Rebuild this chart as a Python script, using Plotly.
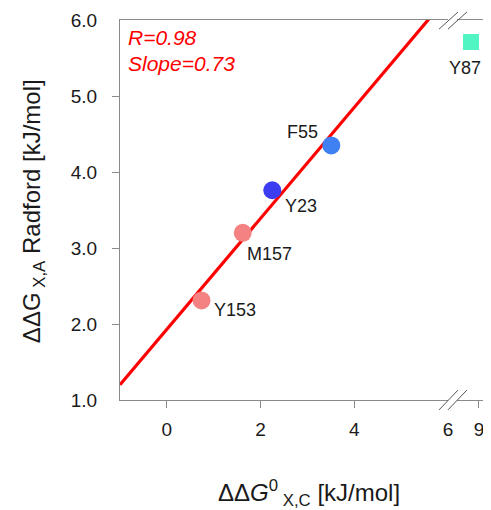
import plotly.graph_objects as go

# ---- data ----
residues = ["Y153", "M157", "Y23", "F55"]
ddg_c = [0.74, 1.62, 2.25, 3.51]
ddg_radford = [2.31, 3.20, 3.76, 4.35]
point_colors = ["#F48282", "#F48282", "#3C3CF0", "#3F80F2"]

outlier_residue = ["Y87"]
outlier_ddg_c = [8.83]
outlier_ddg_radford = [5.71]

fit_slope = 0.73
fit_intercept = 1.93
fit_x = [-1.0, 5.6]
fit_y = [fit_intercept + fit_slope * x for x in fit_x]

x_ticks_main = [0, 2, 4]
x_ticks_break = [6]
x_ticks_far = [9]
y_ticks = [2, 3, 4, 5]
y_ticks_edge = [1, 6]

# label offsets (pixels) for point labels
label_shift = {"Y153": (33, -10), "M157": (27, -21), "Y23": (29, -16), "F55": (-29, 13)}

FONT = "Liberation Sans, Arial, sans-serif"
GREY = "#8a8a8a"
TICKFONT = dict(family=FONT, size=19, color="#1a1a1a")

fig = go.Figure()

fig.add_trace(go.Scatter(x=fit_x, y=fit_y, mode="lines",
                         line=dict(color="#FF0000", width=3.2), xaxis="x", yaxis="y",
                         showlegend=False, hoverinfo="skip"))
fig.add_trace(go.Scatter(x=ddg_c, y=ddg_radford, mode="markers",
                         marker=dict(size=18, color=point_colors, line=dict(width=0)),
                         xaxis="x", yaxis="y", showlegend=False))
fig.add_trace(go.Scatter(x=outlier_ddg_c, y=outlier_ddg_radford, mode="markers",
                         marker=dict(size=16, symbol="square", color="#50F5C3", line=dict(width=0)),
                         xaxis="x2", yaxis="y", showlegend=False))
# empty trace so that the label-only overlay axes are rendered
fig.add_trace(go.Scatter(x=[None], y=[None], xaxis="x3", yaxis="y2", showlegend=False,
                         hoverinfo="skip"))

common_axis = dict(showline=True, linecolor=GREY, linewidth=1, ticks="outside", ticklen=7,
                   tickcolor=GREY, showgrid=False, zeroline=False, automargin=False,
                   tickfont=TICKFONT)
label_only_axis = dict(showline=False, ticks="outside", ticklen=7, tickcolor="rgba(0,0,0,0)",
                       showgrid=False, zeroline=False, automargin=False, tickfont=TICKFONT)

d1_end = 0.884
d2_start = 0.908

fig.update_layout(
    width=483, height=502,
    margin=dict(l=112, r=0, t=12, b=110),
    paper_bgcolor="white", plot_bgcolor="white",
    xaxis=dict(domain=[0, d1_end], range=[-1, 6.0], tickvals=x_ticks_main, mirror=True,
               anchor="y", ticklabelstandoff=5, **common_axis),
    xaxis2=dict(domain=[d2_start, 1], range=[8.53, 9.255], tickvals=x_ticks_far, mirror=True,
                anchor="y", ticklabelstandoff=5, **common_axis),
    xaxis3=dict(domain=[0, d1_end], range=[-1, 6.0], tickvals=x_ticks_break, overlaying="x",
                anchor="y", side="bottom", ticklabelstandoff=5, **label_only_axis),
    yaxis=dict(range=[1, 6], tickvals=y_ticks, tickformat=".1f", anchor="x",
               ticklabelstandoff=11, **common_axis),
    yaxis2=dict(range=[1, 6], tickvals=y_ticks_edge, tickformat=".1f", overlaying="y", anchor="x",
                side="left", ticklabelstandoff=11, **label_only_axis),
)

annotations = []
for name, x, y in zip(residues, ddg_c, ddg_radford):
    dx, dy = label_shift[name]
    annotations.append(dict(x=x, y=y, xref="x", yref="y", text=name, showarrow=False,
                            xshift=dx, yshift=dy, font=dict(family=FONT, size=18, color="#1a1a1a")))
for name, x, y in zip(outlier_residue, outlier_ddg_c, outlier_ddg_radford):
    annotations.append(dict(x=x, y=y, xref="x2", yref="y", text=name, showarrow=False,
                            xshift=-6, yshift=-26, font=dict(family=FONT, size=18, color="#1a1a1a")))

annotations.append(dict(x=0.016, y=0.953, xref="paper", yref="paper", xanchor="left", yanchor="middle",
                        text="<i>R=0.98</i>", showarrow=False,
                        font=dict(family=FONT, size=21, color="#FF0000")))
annotations.append(dict(x=0.016, y=0.885, xref="paper", yref="paper", xanchor="left", yanchor="middle",
                        text="<i>Slope=0.73</i>", showarrow=False,
                        font=dict(family=FONT, size=21, color="#FF0000")))

annotations.append(dict(x=-0.2345, y=0.497, xref="paper", yref="paper", xanchor="center", yanchor="middle",
                        textangle=-90, text="ΔΔG<sub> X,A</sub> Radford [kJ/mol]", showarrow=False,
                        font=dict(family=FONT, size=24, color="#1a1a1a")))
annotations.append(dict(x=0.51, y=-0.245, xref="paper", yref="paper", xanchor="center", yanchor="middle",
                        text="ΔΔ<i>G</i><sup>0</sup><sub> X,C</sub> [kJ/mol]", showarrow=False,
                        font=dict(family=FONT, size=24, color="#1a1a1a")))
fig.update_layout(annotations=annotations)

# axis break marks
shapes = []
for y0, y1 in [(-0.026, 0.026), (0.976, 1.021)]:
    for xa, xb in [(0.860, 0.911), (0.884, 0.935)]:
        shapes.append(dict(type="line", xref="paper", yref="paper", x0=xa, x1=xb, y0=y0, y1=y1,
                           line=dict(color="#555555", width=1)))
fig.update_layout(shapes=shapes)

fig.write_html("out.html")
